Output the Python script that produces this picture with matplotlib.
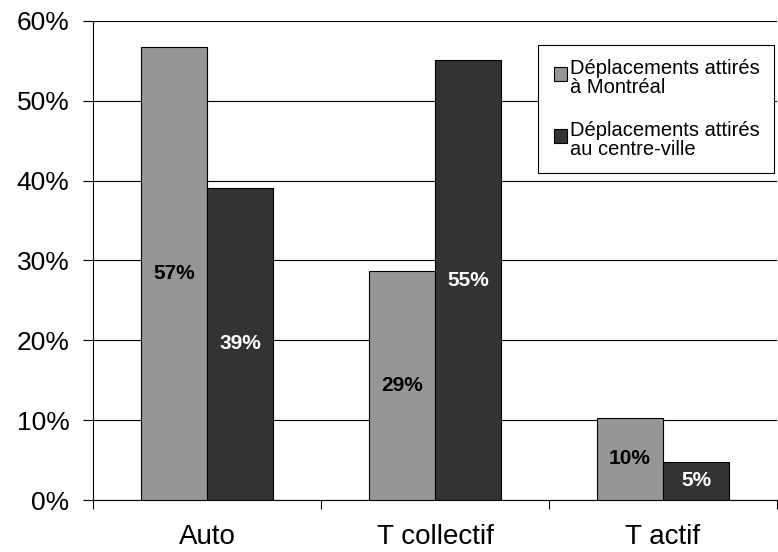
import numpy as np
import matplotlib.pyplot as plt
from matplotlib.ticker import FixedLocator
from matplotlib.legend_handler import HandlerPatch
from matplotlib.patches import Rectangle

plt.rcParams['font.family'] = ['Liberation Sans', 'DejaVu Sans']

# Mode share of trips, by destination
categories = ['Auto', 'T collectif', 'T actif']
montreal = [56.8, 28.7, 10.3]
centre_ville = [39.1, 55.1, 4.8]
series_names = ['Déplacements attirés\nà Montréal',
                'Déplacements attirés\nau centre-ville']
yticks = [0, 10, 20, 30, 40, 50, 60]

fig = plt.figure(figsize=(7.78, 5.52), dpi=100)
ax = fig.add_axes([0.1195, 0.0942, 0.8792, 0.8678])

x = np.arange(len(categories))
w = 0.29
b1 = ax.bar(x - w / 2, montreal, w, color='#969696', edgecolor='black',
            linewidth=0.8, zorder=3)
b2 = ax.bar(x + w / 2, centre_ville, w, color='#333333', edgecolor='black',
            linewidth=0.8, zorder=3)

# value labels in the middle of each bar
for bars, vals, col in [(b1, montreal, 'black'), (b2, centre_ville, 'white')]:
    for rect, v in zip(bars, vals):
        ax.text(rect.get_x() + rect.get_width() / 2, v / 2, f'{v:.0f}%',
                ha='center', va='center', fontsize=15, fontweight='bold',
                color=col, zorder=4)

ax.set_xlim(-0.5, 2.5)
ax.set_ylim(0, 60)
ax.set_yticks(yticks)
ax.set_yticklabels([f'{t}%' for t in yticks], fontsize=19)
ax.yaxis.grid(True, color='black', linewidth=0.8, zorder=0)

ax.set_xticks(x)
ax.set_xticklabels(categories, fontsize=20)
ax.tick_params(axis='x', which='major', length=0, pad=17)
ax.xaxis.set_minor_locator(FixedLocator([-0.5, 0.5, 1.5, 2.5]))
ax.tick_params(axis='x', which='minor', length=6.5, width=0.8)
ax.tick_params(axis='y', length=7, width=0.8, pad=10)

for side in ['top', 'right']:
    ax.spines[side].set_visible(False)
ax.spines['left'].set_linewidth(0.8)
ax.spines['bottom'].set_linewidth(0.8)


# small square swatch sitting at the top of a two-line legend entry
def top_square(legend, orig_handle, xdescent, ydescent, width, height, fontsize):
    s = fontsize * 0.68
    return Rectangle((width - s - xdescent, height - s - ydescent - 2), s, s)


leg = ax.legend([b1[0], b2[0]], series_names,
                loc='upper left', bbox_to_anchor=(538 / 778, 1 - 45 / 552),
                bbox_transform=fig.transFigure, fontsize=14.5, frameon=True,
                fancybox=False, framealpha=1, edgecolor='black',
                handlelength=0.75, handleheight=1.9, handletextpad=0.15,
                labelspacing=1.2, borderpad=0.7, borderaxespad=0,
                handler_map={Rectangle: HandlerPatch(patch_func=top_square)})
leg.get_frame().set_linewidth(0.8)
for t in leg.get_texts():
    t.set_linespacing(1.0)

fig.savefig('out.png', dpi=100)
